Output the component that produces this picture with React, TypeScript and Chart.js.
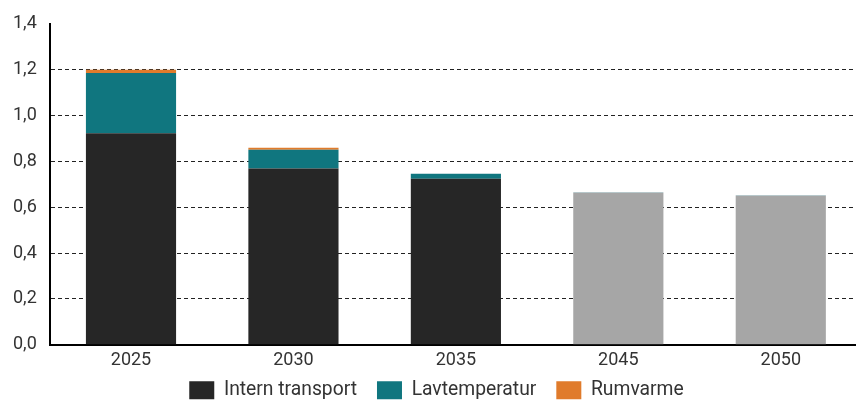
import React, { useEffect, useRef } from "react";
import { Chart, registerables } from "chart.js";

Chart.register(...registerables);

const categories = ["2025", "2030", "2035", "2045", "2050"];
const internTransport = [0.923, 0.769, 0.724, 0.662, 0.649];
const lavtemperatur = [0.262, 0.082, 0.022, 0.003, 0.003];
const rumvarme = [0.015, 0.008, 0, 0, 0];
const projectedFrom = 3;

const FONT = "Roboto";
const TEXT = "#333333";
const W = 862;
const H = 410;

const legendShift = {
  id: "legendShift",
  afterLayout(chart: any) {
    if (chart.legend) chart.legend.left += 11;
  },
};

export default function App() {
  const ref = useRef<HTMLCanvasElement | null>(null);

  useEffect(() => {
    if (!ref.current) return;
    const pick = (solid: string, faded: string) => (ctx: any) =>
      typeof ctx.dataIndex === "number" && ctx.dataIndex >= projectedFrom ? faded : solid;

    const chart = new Chart(ref.current, {
      type: "bar",
      data: {
        labels: categories,
        datasets: [
          {
            label: "Intern transport",
            data: internTransport,
            backgroundColor: pick("#262626", "#a6a6a6"),
          },
          {
            label: "Lavtemperatur",
            data: lavtemperatur,
            backgroundColor: pick("#10767f", "#9fb4b8"),
          },
          {
            label: "Rumvarme",
            data: rumvarme,
            backgroundColor: pick("#e07b2b", "#d9b89a"),
          },
        ],
      },
      plugins: [legendShift],
      options: {
        animation: false,
        responsive: false,
        maintainAspectRatio: false,
        layout: { padding: { top: 12, left: 0, right: 0, bottom: 0 } },
        datasets: {
          bar: { categoryPercentage: 1, barPercentage: 0.555 },
        },
        plugins: {
          tooltip: { enabled: false },
          legend: {
            position: "bottom",
            labels: {
              font: { family: FONT, size: 19.3 },
              color: TEXT,
              boxWidth: 25,
              boxHeight: 18,
              padding: 20,
            },
          },
        },
        scales: {
          x: {
            stacked: true,
            grid: { display: false, drawTicks: false },
            border: { display: true, color: "#000000", width: 2 },
            ticks: {
              font: { family: FONT, size: 18 },
              color: TEXT,
              padding: 5,
            },
            afterFit: (scale: any) => {
              scale.height = 16;
              scale._computeLabelArea = () => undefined;
            },
          },
          y: {
            stacked: true,
            min: 0,
            max: 1.4,
            grid: {
              drawTicks: false,
              color: (ctx: any) =>
                ctx.tick && (ctx.tick.value >= 1.39 || ctx.tick.value <= 0.01)
                  ? "rgba(0,0,0,0)"
                  : "#222222",
              lineWidth: 1,
            },
            border: { display: true, color: "#000000", width: 2, dash: [4, 3] },
            ticks: {
              stepSize: 0.2,
              font: { family: FONT, size: 18 },
              color: TEXT,
              padding: 13,
              callback: (v: any) => Number(v).toFixed(1).replace(".", ","),
            },
          },
        },
      },
    } as any);
    return () => chart.destroy();
  }, []);

  return (
    <div
      style={{
        position: "absolute",
        left: 0,
        top: 0,
        width: 856,
        height: 402,
        overflow: "hidden",
      }}
    >
      <canvas ref={ref} width={W} height={H} style={{ width: W, height: H, display: "block" }} />
    </div>
  );
}
